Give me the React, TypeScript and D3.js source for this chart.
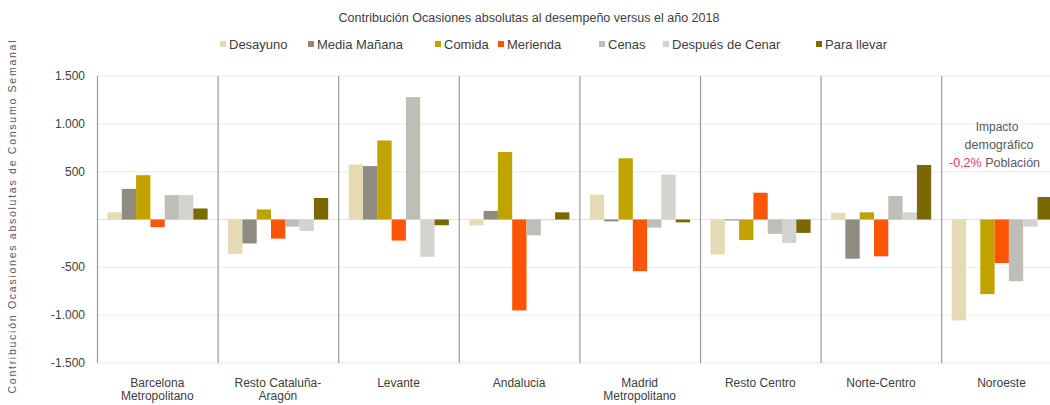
import React from "react";
import * as d3 from "d3";

const categories = [
  "Barcelona\nMetropolitano",
  "Resto Cataluña-\nAragón",
  "Levante",
  "Andalucia",
  "Madrid\nMetropolitano",
  "Resto Centro",
  "Norte-Centro",
  "Noroeste",
];

const seriesNames = [
  "Desayuno",
  "Media Mañana",
  "Comida",
  "Merienda",
  "Cenas",
  "Después de Cenar",
  "Para llevar",
];

const seriesColors = ["#e6dab4", "#8e8c80", "#c1a300", "#fc5508", "#bfbeb6", "#d3d3cf", "#7a6800"];

// values per series, one per category
const desayuno = [75, -360, 575, -60, 260, -365, 70, -1055];
const mediaManana = [320, -250, 558, 90, -20, -10, -410, 0];
const comida = [463, 105, 826, 705, 640, -215, 75, -780];
const merienda = [-80, -200, -220, -950, -540, 280, -385, -455];
const cenas = [255, -75, 1280, -165, -85, -150, 245, -645];
const despues = [255, -120, -390, -8, 470, -245, 75, -75];
const paraLlevar = [115, 225, -60, 75, -30, -140, 570, 235];

const seriesValues = [desayuno, mediaManana, comida, merienda, cenas, despues, paraLlevar];

const yTicks = [1500, 1000, 500, 0, -500, -1000, -1500];
const yTickLabels = ["1.500", "1.000", "500", "", "-500", "-1.000", "-1.500"];

const title = "Contribución  Ocasiones absolutas al desempeño versus el año 2018";
const yAxisTitle = "Contribución Ocasiones absolutas de Consumo Semanal";

const W = 1050;
const H = 405;
const FONT = "'Liberation Sans', Arial, sans-serif";
const TEXT = "#404040";

export default function App() {
  const plotLeft = 97;
  const catW = 120.6;
  const x = d3
    .scaleBand<string>()
    .domain(categories)
    .range([plotLeft, plotLeft + catW * categories.length])
    .paddingInner(0)
    .paddingOuter(0);
  const xs = d3
    .scaleBand<string>()
    .domain(seriesNames)
    .range([10.5, x.bandwidth() - 10])
    .paddingInner(0)
    .paddingOuter(0);
  const y = d3.scaleLinear().domain([-1500, 1500]).range([363, 76]);

  const legendX = [223, 311, 438, 501, 602, 666, 819];

  return (
    <svg
      width={W}
      height={H}
      style={{ position: "absolute", left: 0, top: 0, background: "#fff" }}
      fontFamily={FONT}
    >
      <rect x={0} y={0} width={W} height={H} fill="#fff" />
      <defs>
        <clipPath id="clipPlot">
          <rect x={0} y={0} width={W} height={H} />
        </clipPath>
      </defs>

      {/* title */}
      <text x={529} y={22} textAnchor="middle" fontSize={12.5} fill={TEXT}>
        {title}
      </text>

      {/* legend */}
      {seriesNames.map((s, i) => (
        <g key={s}>
          <rect x={legendX[i] - 3} y={41} width={6} height={6} fill={seriesColors[i]} />
          <text x={legendX[i] + 6} y={48.5} fontSize={13} fill={TEXT}>
            {s}
          </text>
        </g>
      ))}

      {/* y axis title */}
      <text
        transform={`translate(16, 217) rotate(-90)`}
        textAnchor="middle"
        fontSize={10.5}
        fill="#595959"
        textLength={353}
        lengthAdjust="spacing"
      >
        {yAxisTitle}
      </text>

      {/* gridlines */}
      {yTicks.map((t) => (
        <line
          key={t}
          x1={plotLeft}
          x2={W}
          y1={y(t)}
          y2={y(t)}
          stroke={t === 0 ? "#e2e2dc" : "#ececec"}
          strokeWidth={1}
        />
      ))}

      {/* y tick labels */}
      {yTicks.map((t, i) => (
        <text key={t} x={85} y={y(t) + 4} textAnchor="end" fontSize={12} fill={TEXT}>
          {yTickLabels[i]}
        </text>
      ))}

      {/* bars */}
      <g clipPath="url(#clipPlot)">
        {categories.map((c, ci) =>
          seriesNames.map((s, si) => {
            const v = seriesValues[si][ci];
            const x0 = (x(c) as number) + (xs(s) as number);
            const y0 = y(Math.max(0, v));
            const h = Math.abs(y(v) - y(0));
            return (
              <rect
                key={c + s}
                x={x0}
                y={y0}
                width={xs.bandwidth()}
                height={h}
                fill={seriesColors[si]}
              />
            );
          })
        )}
      </g>

      {/* separators */}
      {categories.map((c) => (
        <line
          key={c}
          x1={(x(c) as number) + 0.5}
          x2={(x(c) as number) + 0.5}
          y1={y(1500)}
          y2={y(-1500)}
          stroke="#9a9a9a"
          strokeWidth={1.2}
        />
      ))}

      {/* category labels */}
      {categories.map((c) => {
        const lines = c.split("\n");
        const cx = (x(c) as number) + x.bandwidth() / 2;
        return (
          <text key={c} x={cx} y={387} textAnchor="middle" fontSize={12} fill={TEXT}>
            {lines.map((l, li) => (
              <tspan key={li} x={cx} dy={li === 0 ? 0 : 13}>
                {l}
              </tspan>
            ))}
          </text>
        );
      })}

      {/* annotation */}
      <text x={997} y={131} textAnchor="middle" fontSize={12} fill="#595959">
        Impacto
      </text>
      <text x={999} y={149} textAnchor="middle" fontSize={12.5} fill="#595959">
        demográfico
      </text>
      <text x={949} y={167} textAnchor="start" fontSize={12.5} fill="#595959">
        <tspan fill="#e8336b">-0,2%</tspan>
        <tspan> Población</tspan>
      </text>
    </svg>
  );
}
